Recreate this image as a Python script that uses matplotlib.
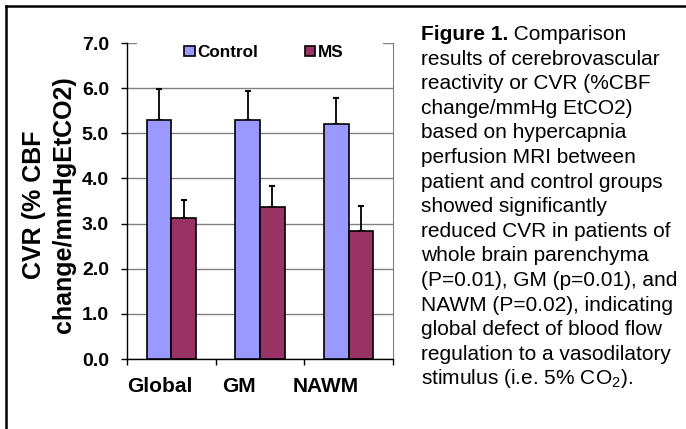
import matplotlib
matplotlib.use("Agg")
import matplotlib.pyplot as plt
import matplotlib.transforms as mtransforms
from matplotlib.patches import Rectangle, Patch
import numpy as np

plt.rcParams['font.family'] = ['Liberation Sans', 'DejaVu Sans']
plt.rcParams['mathtext.fontset'] = 'custom'
plt.rcParams['mathtext.rm'] = 'Liberation Sans'

categories = ["Global", "GM", "NAWM"]
control_mean = [5.29, 5.29, 5.20]
control_err = [0.68, 0.65, 0.58]
ms_mean = [3.12, 3.37, 2.84]
ms_err = [0.40, 0.46, 0.55]
series_names = ["Control", "MS"]
yticks = [0.0, 1.0, 2.0, 3.0, 4.0, 5.0, 6.0, 7.0]
ylabel = "CVR (% CBF\nchange/mmHgEtCO2)"
caption_bold = "Figure 1."
caption_lines = [
    " Comparison",
    "results of cerebrovascular",
    "reactivity or CVR (%CBF",
    "change/mmHg EtCO2)",
    "based on hypercapnia",
    "perfusion MRI between",
    "patient and control groups",
    "showed significantly",
    "reduced CVR in patients of",
    "whole brain parenchyma",
    "(P=0.01), GM (p=0.01), and",
    "NAWM (P=0.02), indicating",
    "global defect of blood flow",
    "regulation to a vasodilatory",
    r"stimulus (i.e. 5% CO$_{\rm 2}$).",
]

c_control = "#9999FF"
c_ms = "#993366"

W, H = 686, 429
fig = plt.figure(figsize=(W / 100, H / 100), dpi=100)
ax = fig.add_axes([127 / W, 1 - 359 / H, (393 - 127) / W, (359 - 43) / H])

x = np.arange(len(categories))
bw = 0.28
ax.bar(x - bw / 2, control_mean, bw, color=c_control, edgecolor="black", linewidth=1.2, zorder=3)
ax.bar(x + bw / 2, ms_mean, bw, color=c_ms, edgecolor="black", linewidth=1.2, zorder=3)
ax.errorbar(x - bw / 2, control_mean, yerr=[np.zeros(3), control_err], fmt="none",
            ecolor="black", elinewidth=1.3, capsize=2.2, capthick=1.5, zorder=2)
ax.errorbar(x + bw / 2, ms_mean, yerr=[np.zeros(3), ms_err], fmt="none",
            ecolor="black", elinewidth=1.3, capsize=2.2, capthick=1.5, zorder=2)

ax.set_xlim(-0.5, len(categories) - 0.5)
ax.set_ylim(0, 7.0)
ax.set_yticks(yticks)
ax.set_yticklabels([f"{v:.1f}" for v in yticks], fontsize=14, fontweight="bold")
ax.yaxis.grid(True, color="#808080", linewidth=1.0, zorder=0)
ax.set_axisbelow(True)
ax.tick_params(axis="y", length=4, width=1, pad=9, direction="out")

# category separator ticks on x axis
ax.set_xticks(np.arange(len(categories) + 1) - 0.5)
ax.set_xticklabels([])
ax.tick_params(axis="x", length=4, width=1, direction="out")
label_shift = [-0.13, -0.24, -0.26]
for i, (c, s) in enumerate(zip(categories, label_shift)):
    ax.text(i + s, -0.6, c, ha="center", va="center", fontsize=15, fontweight="bold")

ax.spines["top"].set_visible(False)
ax.spines["right"].set_color("#808080")
ax.spines["left"].set_linewidth(1.0)
ax.spines["bottom"].set_linewidth(1.0)

fig.text(49 / W, 1 - 205 / H, ylabel, rotation=90, ha="center", va="center",
         fontsize=18, fontweight="bold", linespacing=1.28, multialignment="center")

# white area behind legend covering the top gridline
ax.add_patch(Rectangle((0.038, 6.6), 0.924, 0.5,
                       transform=mtransforms.blended_transform_factory(ax.transAxes, ax.transData),
                       facecolor="white", edgecolor="none", zorder=4, clip_on=False))
handles = [Patch(facecolor=c_control, edgecolor="black", linewidth=1.2),
           Patch(facecolor=c_ms, edgecolor="black", linewidth=1.2)]
leg = ax.legend(handles, series_names, ncol=2, loc="center", bbox_to_anchor=(0.515, 0.97),
                frameon=False, prop={"weight": "bold", "size": 12.3},
                handlelength=0.6, handleheight=0.6, handletextpad=0.15, columnspacing=2.75)
leg.set_zorder(5)

# figure border (left and top)
fig.add_artist(plt.Line2D([6 / W, 6 / W], [0, 1 - 6 / H], color="black", linewidth=1.8))
fig.add_artist(plt.Line2D([6 / W, 1], [1 - 6 / H, 1 - 6 / H], color="black", linewidth=1.8))

# caption
x0 = 421 / W
base0 = 40
step = 24.6
fs = 15
tb = fig.text(x0, 1 - base0 / H, caption_bold, fontsize=fs, fontweight="bold", va="baseline", ha="left")
fig.canvas.draw()
r = fig.canvas.get_renderer()
bb = tb.get_window_extent(r)
fig.text(bb.x1 / W, 1 - base0 / H, caption_lines[0], fontsize=fs, va="baseline", ha="left")
for k, line in enumerate(caption_lines[1:], start=1):
    fig.text(x0, 1 - (base0 + k * step) / H, line, fontsize=fs, va="baseline", ha="left")

fig.savefig("out.png", dpi=100)
